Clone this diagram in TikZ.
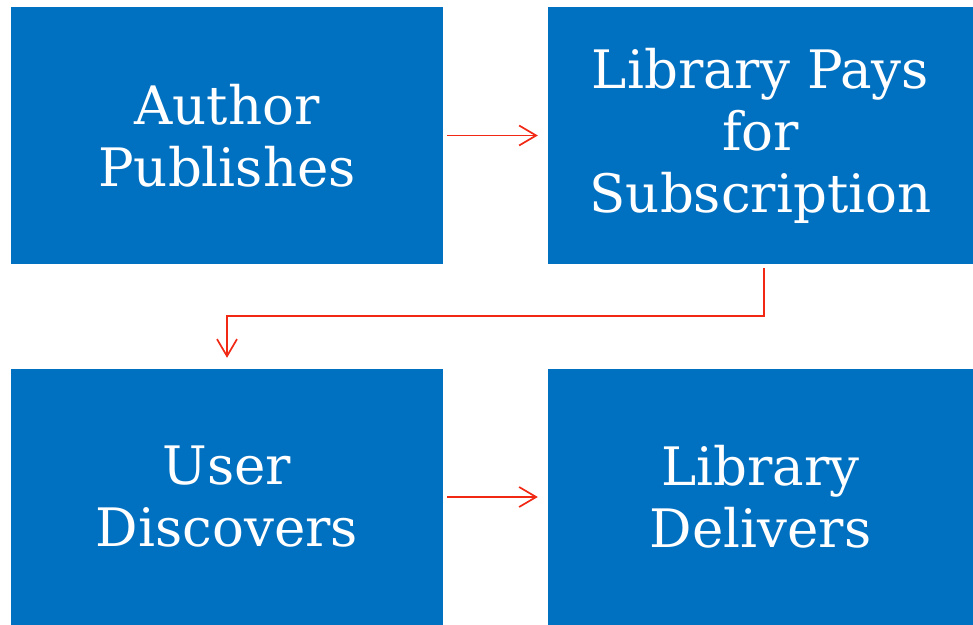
\documentclass[tikz,border=0pt]{standalone}
\usepackage{fontspec}
\setmainfont{DejaVu Serif}
\usetikzlibrary{arrows.meta}
\definecolor{boxblue}{RGB}{0,112,192}
\definecolor{arrred}{RGB}{240,40,20}
\begin{document}
\begin{tikzpicture}[x=1pt,y=1pt,
  box/.style={fill=boxblue,draw=none,text=white,align=center,
    font=\fontsize{53}{62}\selectfont,inner sep=0pt},
  conn/.style={draw=arrred,line width=1.7pt,
    -{Straight Barb[length=17pt,width=20pt,line width=1.7pt]}}]
\useasboundingbox (0,0) rectangle (973,624);
\node[box,minimum width=432pt,minimum height=257pt] (a) at (227,488.5) {Author\\Publishes};
\node[box,minimum width=425pt,minimum height=257pt] (b) at (760.5,488.5) {Library Pays\\for\\Subscription};
\node[box,minimum width=432pt,minimum height=256pt] (c) at (227,127) {User\\Discovers};
\node[box,minimum width=425pt,minimum height=256pt] (d) at (760.5,127) {Library\\Delivers};
\draw[conn,shorten <=4pt,shorten >=10pt] (a.east) -- (b.west);
\draw[conn,shorten <=4pt,shorten >=10pt] (c.east) -- (d.west);
\coordinate (s) at ([xshift=3.5pt]b.south);
\draw[conn,shorten <=4pt,shorten >=11pt] (s) -- ++(0,-52) -| (c.north);
\end{tikzpicture}
\end{document}
